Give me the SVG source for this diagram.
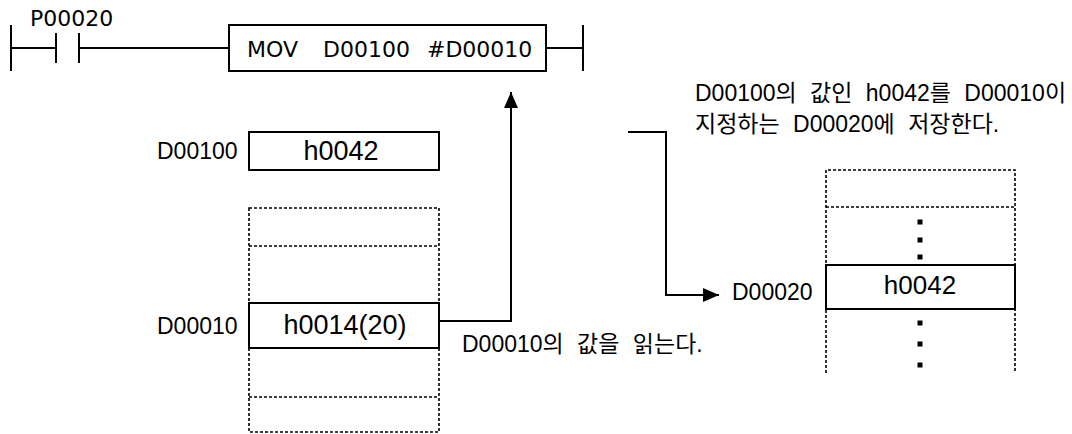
<svg xmlns="http://www.w3.org/2000/svg" width="1072" height="434" viewBox="0 0 1072 434">
<style>
text{font-family:"Liberation Sans","Noto Sans CJK KR",Arial,sans-serif;font-size:23px;fill:#000}
.g{font-family:"DejaVu Sans",Verdana,sans-serif;font-size:22px}
.v{font-size:27px;text-anchor:middle}
.v2{font-size:26px;text-anchor:middle}
.k{word-spacing:7px}
.s{fill:none;stroke:#000;stroke-width:2}
.d{fill:none;stroke:#000;stroke-width:1.6;stroke-dasharray:3 2}
.w{fill:#fff;stroke:#000;stroke-width:2}
</style>
<defs>
<marker id="ah" markerWidth="16" markerHeight="14" refX="16" refY="7" orient="auto" markerUnits="userSpaceOnUse">
<path d="M0,0 L16,7 L0,14 Z" fill="#000"/>
</marker>
</defs>
<g id="ladder">
<path class="s" d="M11,25 V71 M11,48 H56 M56,33 V63 M79,33 V63 M79,48 H229 M546,48 H583 M583,25 V71"/>
<text class="g" x="30" y="26">P00020</text>
</g>
<g id="mov">
<rect class="s" x="229" y="25" width="317" height="46"/>
<text class="g" y="57"><tspan x="247">MOV</tspan><tspan x="323">D00100</tspan><tspan x="427">#D00010</tspan></text>
</g>
<g id="d00100">
<text x="157" y="159">D00100</text>
<rect class="s" x="249" y="132" width="190" height="38"/>
<text class="v" x="341" y="160">h0042</text>
</g>
<g id="left-stack">
<rect class="d" x="249" y="208" width="190" height="224"/>
<path class="d" d="M249,246 H439 M249,397 H439"/>
</g>
<g id="d00010">
<text x="157" y="334">D00010</text>
<rect class="w" x="249" y="303" width="190" height="45"/>
<text class="v" x="345" y="334">h0014(20)</text>
</g>
<g id="right-stack">
<path class="d" d="M826,373 V170 H1015 V373 M826,207 H1015"/>
<g fill="#000">
<rect x="917.5" y="219.5" width="5" height="5"/>
<rect x="917.5" y="237.5" width="5" height="5"/>
<rect x="917.5" y="254.5" width="5" height="5"/>
<rect x="917.5" y="320.5" width="5" height="5"/>
<rect x="917.5" y="341.5" width="5" height="5"/>
<rect x="917.5" y="362.5" width="5" height="5"/>
</g>
</g>
<g id="d00020">
<text x="732" y="300">D00020</text>
<rect class="w" x="826" y="265" width="189" height="44"/>
<text class="v2" x="920" y="294">h0042</text>
</g>
<g id="connectors">
<path class="s" d="M439,321 H511 V92" marker-end="url(#ah)"/>
<path class="s" d="M628,132 H666 V295 H719" marker-end="url(#ah)"/>
</g>
<g id="labels">
<text class="k" x="462" y="352">D00010의 값을 읽는다.</text>
<text class="k" x="695" y="101">D00100의 값인 h0042를 D00010이</text>
<text class="k" x="695" y="132">지정하는 D00020에 저장한다.</text>
</g>
</svg>
